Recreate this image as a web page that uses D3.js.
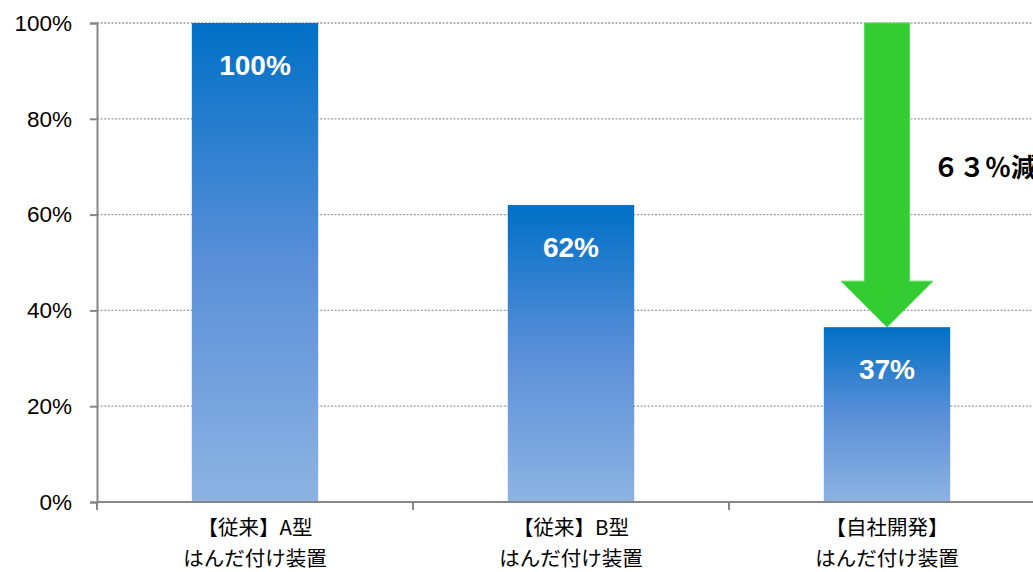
<!DOCTYPE html>
<html><head><meta charset="utf-8">
<script src="https://cdn.jsdelivr.net/npm/d3@7"></script>
<style>html,body{margin:0;padding:0;background:#fff;overflow:hidden}</style>
</head><body><svg id="c" width="1033" height="572"></svg>
<script>
const categoriesLine1 = ["【従来】A型", "【従来】B型", "【自社開発】"];
const categoriesLine2 = ["はんだ付け装置", "はんだ付け装置", "はんだ付け装置"];
const values = [1.00, 0.62, 0.365];
const valueLabels = ["100%", "62%", "37%"];
const yTicks = [0, 0.2, 0.4, 0.6, 0.8, 1.0];
const reductionText = "６３％減";

(function(){
const svg = d3.select("#c");
const mLeft = 97, mTop = 23, mBottom = 502;
const step = 316;
const x = d3.scaleBand().domain([0,1,2]).range([mLeft, mLeft + step*3]).paddingInner(0.6).paddingOuter(0.3);
const y = d3.scaleLinear().domain([0,1]).range([mBottom, mTop]);

const defs = svg.append("defs");
const g = defs.append("linearGradient").attr("id","barGrad").attr("x1",0).attr("y1",0).attr("x2",0).attr("y2",1);
g.append("stop").attr("offset","0%").attr("stop-color","#0070C6");
g.append("stop").attr("offset","50%").attr("stop-color","#5A8FD8");
g.append("stop").attr("offset","100%").attr("stop-color","#8DB3E2");

// gridlines
svg.append("g").selectAll("line").data(yTicks.filter(d=>d>0)).join("line")
  .attr("x1", mLeft).attr("x2", 1033).attr("y1", d=>y(d)).attr("y2", d=>y(d))
  .attr("stroke","#9a9a9a").attr("stroke-width",1.3).attr("stroke-dasharray","2,1.6");

// y axis
const yAxis = d3.axisLeft(y).tickValues(yTicks).tickFormat(d3.format(".0%")).tickSize(7).tickPadding(18);
const ya = svg.append("g").attr("transform",`translate(${mLeft},0)`).call(yAxis);
ya.select(".domain").attr("stroke","#868686").attr("stroke-width",2);
ya.selectAll(".tick line").attr("stroke","#868686").attr("stroke-width",2);
ya.selectAll(".tick text").attr("font-family","'Liberation Sans', Arial, sans-serif").attr("font-size",22.5).attr("fill","#000");

// bars
svg.append("g").selectAll("rect").data(values).join("rect")
  .attr("x",(d,i)=>x(i)).attr("width",x.bandwidth())
  .attr("y",d=>y(d)).attr("height",d=>mBottom - y(d))
  .attr("fill","url(#barGrad)");

// value labels
svg.append("g").selectAll("text").data(values).join("text")
  .attr("x",(d,i)=>x(i)+x.bandwidth()/2).attr("y",d=>y(d)+52)
  .attr("text-anchor","middle").attr("fill","#fff")
  .attr("font-family","'Liberation Sans', Arial, sans-serif").attr("font-weight","bold").attr("font-size",28)
  .text((d,i)=>valueLabels[i]);

// x axis
svg.append("line").attr("x1",mLeft).attr("x2",1033).attr("y1",mBottom).attr("y2",mBottom)
  .attr("stroke","#868686").attr("stroke-width",2);
const catTicks = [0,1,2,3].map(i=>mLeft + i*step);
svg.append("g").selectAll("line").data(catTicks).join("line")
  .attr("x1",d=>d).attr("x2",d=>d).attr("y1",mBottom).attr("y2",mBottom+8)
  .attr("stroke","#868686").attr("stroke-width",2);

const xl = svg.append("g").selectAll("text").data([0,1,2]).join("text")
  .attr("text-anchor","middle")
  .attr("font-family","'Noto Sans CJK JP', sans-serif").attr("font-size",20.5).attr("fill","#000");
xl.append("tspan").attr("x",i=>x(i)+x.bandwidth()/2).attr("y",535).text(i=>categoriesLine1[i]);
xl.append("tspan").attr("x",i=>x(i)+x.bandwidth()/2).attr("y",566).text(i=>categoriesLine2[i]);

// reduction arrow
const cx = x(2) + x.bandwidth()/2;
const yStart = y(1.0), yTip = y(values[2]);
const headLen = 46, headHalf = 46, shaftHalf = 22.5;
const pts = [
  [cx-shaftHalf, yStart],[cx+shaftHalf, yStart],[cx+shaftHalf, yTip-headLen],
  [cx+headHalf, yTip-headLen],[cx, yTip],[cx-headHalf, yTip-headLen],[cx-shaftHalf, yTip-headLen]
];
svg.append("polygon").attr("points", pts.map(p=>p.join(",")).join(" "))
  .attr("fill","#33CC33").attr("stroke","#5ADB5A").attr("stroke-width",1);

svg.append("text").attr("x", 933).attr("y", 177)
  .attr("font-family","'Noto Sans CJK JP', sans-serif").attr("font-weight","bold").attr("font-size",26)
  .attr("fill","#000").text(reductionText);
})();
</script></body></html>
